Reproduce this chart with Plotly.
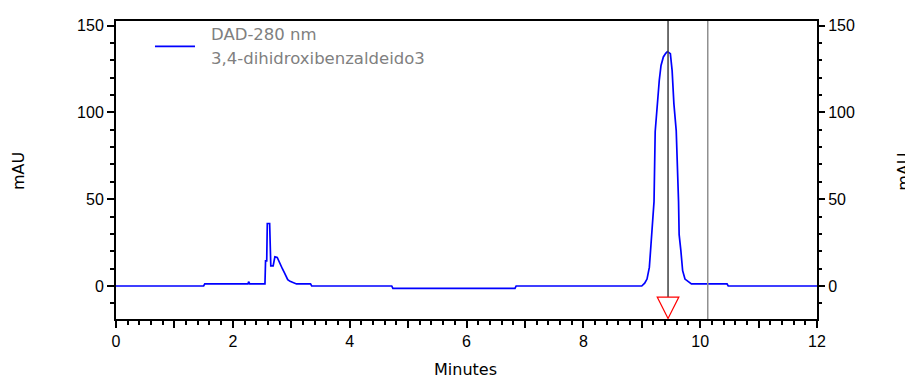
import plotly.graph_objects as go

# Chromatogram trace (minutes, mAU)
time_min = [0.00, 1.50, 1.52, 2.26, 2.27, 2.29, 2.55, 2.56, 2.58, 2.59, 2.63, 2.65, 2.69,
            2.72, 2.76, 2.79, 2.82, 2.85, 2.88, 2.91, 2.94, 2.98, 3.03, 3.09, 3.33, 3.35,
            4.72, 4.74, 6.83, 6.85, 9.00, 9.05, 9.09, 9.13, 9.15, 9.17, 9.19, 9.21, 9.23,
            9.27, 9.30, 9.33, 9.37, 9.41, 9.44, 9.49, 9.52, 9.55, 9.59, 9.63, 9.64, 9.67,
            9.70, 9.74, 9.80, 9.85, 10.46, 10.48, 12.00]
absorb_mau = [0.0, 0.0, 1.2, 1.2, 2.5, 1.2, 1.2, 14.5, 14.5, 36.0, 36.0, 11.6, 11.6,
              16.8, 16.4, 14.5, 12.6, 9.8, 7.8, 5.4, 3.7, 2.7, 2.2, 1.2, 1.2, 0.0,
              0.0, -1.4, -1.4, 0.0, 0.0, 1.6, 4.0, 10.7, 20.0, 29.6, 39.0, 48.6, 89.0,
              107.0, 118.5, 127.0, 131.9, 134.0, 135.0, 133.8, 124.0, 105.0, 89.5, 48.6, 29.6, 20.2,
              8.8, 4.0, 2.2, 1.2, 1.2, 0.0, 0.0]

legend_line1 = "DAD-280 nm"
legend_line2 = "3,4-dihidroxibenzaldeido3"
x_title = "Minutes"
y_title = "mAU"

peak_rt = 9.45        # retention time marker (dark line + red triangle)
window_end = 10.13    # gray vertical line

x_ticks = list(range(0, 13))
x_ticktext = [str(v) if v % 2 == 0 else "" for v in x_ticks]
y_ticks = [0, 50, 100, 150]

x_range = [0, 12]
y_range = [-19, 152.6]

TICK_FONT = dict(family="Liberation Sans, Arial, sans-serif", size=16, color="black")

fig = go.Figure()
fig.add_trace(go.Scatter(x=time_min, y=absorb_mau, mode="lines",
                         line=dict(color="#0000ff", width=1.7),
                         showlegend=False, hoverinfo="skip"))
# invisible trace to activate right axis
fig.add_trace(go.Scatter(x=[None], y=[None], yaxis="y2", showlegend=False))

fig.update_layout(
    width=905, height=370,
    margin=dict(l=108, r=96, t=9, b=59),
    paper_bgcolor="white", plot_bgcolor="white",
    xaxis=dict(range=x_range, tickvals=x_ticks, ticktext=x_ticktext,
               ticks="outside", ticklen=7, tickwidth=1.5, tickcolor="black",
               showline=True, linecolor="black", linewidth=2, mirror=True,
               showgrid=False, zeroline=False, tickfont=TICK_FONT,
               minor=dict(dtick=0.2, ticks="outside", ticklen=4, tickwidth=1.5,
                          tickcolor="black", showgrid=False)),
    yaxis=dict(range=y_range, tickvals=y_ticks,
               ticks="outside", ticklen=7, tickwidth=1.5, tickcolor="black",
               showline=True, linecolor="black", linewidth=2, mirror=True,
               showgrid=False, zeroline=False, tickfont=TICK_FONT,
               ticklabelstandoff=0,
               minor=dict(dtick=10, ticks="outside", ticklen=4, tickwidth=1.5,
                          tickcolor="black", showgrid=False)),
    yaxis2=dict(range=y_range, tickvals=y_ticks, overlaying="y", side="right",
                ticks="outside", ticklen=7, tickwidth=1.5, tickcolor="black",
                showline=False, showgrid=False, zeroline=False, tickfont=TICK_FONT,
                ticklabelstandoff=0,
                minor=dict(dtick=10, ticks="outside", ticklen=4, tickwidth=1.5,
                           tickcolor="black", showgrid=False)),
)

# vertical marker lines
tri_top = -6.4
tri_tip = -18.7
tri_half = 0.185
fig.add_shape(type="line", xref="x", yref="y", x0=peak_rt, x1=peak_rt, y0=tri_top, y1=y_range[1],
              line=dict(color="#404040", width=1.5))
fig.add_shape(type="line", xref="x", yref="paper", x0=window_end, x1=window_end, y0=0, y1=1,
              line=dict(color="#909090", width=1.5))
fig.add_shape(type="path", xref="x", yref="y",
              path=f"M {peak_rt - tri_half},{tri_top} L {peak_rt + tri_half},{tri_top} L {peak_rt},{tri_tip} Z",
              line=dict(color="#ff0000", width=1.2), fillcolor="rgba(0,0,0,0)")

# legend sample line
fig.add_shape(type="line", xref="paper", yref="paper", x0=0.0556, x1=0.1127, y0=0.915, y1=0.915,
              line=dict(color="#0000ff", width=1.7))

LEG_FONT = dict(family="DejaVu Sans, sans-serif", size=16.5, color="#808080")
fig.add_annotation(text=legend_line1, xref="paper", yref="paper", x=0.1327, y=0.9536,
                   xanchor="left", yanchor="middle", showarrow=False, font=LEG_FONT)
fig.add_annotation(text=legend_line2, xref="paper", yref="paper", x=0.1327, y=0.8725,
                   xanchor="left", yanchor="middle", showarrow=False, font=LEG_FONT)

TITLE_FONT = dict(family="DejaVu Sans, sans-serif", size=16, color="black")
fig.add_annotation(text=x_title, xref="paper", yref="paper", x=0.4979, y=-0.17,
                   xanchor="center", yanchor="middle", showarrow=False, font=TITLE_FONT)
fig.add_annotation(text=y_title, xref="paper", yref="paper", x=-0.139, y=0.495,
                   xanchor="center", yanchor="middle", textangle=-90, showarrow=False, font=TITLE_FONT)
fig.add_annotation(text=y_title, xref="paper", yref="paper", x=1.123, y=0.495,
                   xanchor="center", yanchor="middle", textangle=-90, showarrow=False, font=TITLE_FONT)

fig.write_html("out.html")
